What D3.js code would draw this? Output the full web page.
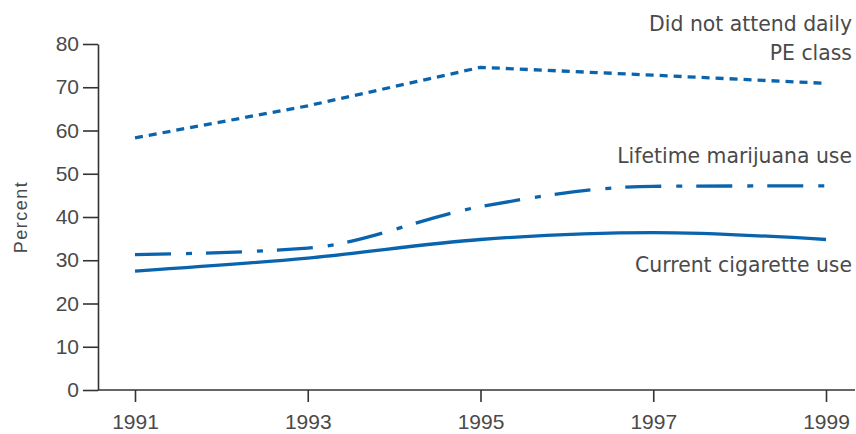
<!DOCTYPE html>
<html>
<head>
<meta charset="utf-8">
<script src="https://cdn.jsdelivr.net/npm/d3@7"></script>
<style>
  body { margin: 0; background: #fff; }
  svg { display: block; }
</style>
</head>
<body>
<svg width="856" height="434"></svg>
<script>
// survey years and percentages
const years = [1991, 1993, 1995, 1997, 1999]
const noDailyPE = [58.3, 65.7, 74.6, 72.8, 70.9]
const marijuana = [31.3, 32.8, 42.4, 47.1, 47.2]
const cigarettes = [27.5, 30.5, 34.8, 36.4, 34.8]
const yTicks = [0, 10, 20, 30, 40, 50, 60, 70, 80]

const svg = d3.select('svg')
const blue = '#0a64ad'
const textGrey = '#4a4a4a'
const axisColor = '#333'

const axisX0 = 98        // where y axis sits
const axisRight = 855

const xScale = d3.scaleLinear()
  .domain([1991, 1999])
  .range([135, 826])

const yScale = d3.scaleLinear()
  .domain([0, 80])
  .range([390, 44])

// y axis
const yAxis = d3.axisLeft(yScale)
  .tickValues(yTicks)
  .tickSize(15)
  .tickSizeOuter(0)
  .tickPadding(4)

const yAxisG = svg.append('g')
  .attr('transform', `translate(${axisX0},0)`)
  .call(yAxis)
yAxisG.selectAll('line, path').attr('stroke', axisColor).attr('stroke-width', 1.6)
yAxisG.selectAll('text')
  .attr('fill', textGrey)
  .style('font-family', '"Liberation Sans", Arial, sans-serif')
  .style('font-size', '21px')

// x axis
const xAxis = d3.axisBottom(xScale)
  .tickValues(years)
  .tickFormat(d3.format('d'))
  .tickSize(12)
  .tickSizeOuter(0)
  .tickPadding(12)

const xAxisG = svg.append('g')
  .attr('transform', `translate(0,${yScale(0)})`)
  .call(xAxis)
xAxisG.select('.domain').remove()
xAxisG.append('line')
  .attr('x1', axisX0).attr('x2', axisRight)
  .attr('stroke', axisColor).attr('stroke-width', 1.6)
xAxisG.selectAll('.tick line').attr('stroke', axisColor).attr('stroke-width', 1.6)
xAxisG.selectAll('text')
  .attr('fill', textGrey)
  .style('font-family', '"Liberation Sans", Arial, sans-serif')
  .style('font-size', '21px')

svg.append('text')
  .attr('transform', `translate(27,${yScale(40)}) rotate(-90)`)
  .attr('text-anchor', 'middle')
  .attr('fill', textGrey)
  .style('font-family', '"Liberation Sans", Arial, sans-serif')
  .style('font-size', '18px')
  .style('letter-spacing', '1.5px')
  .text('Percent')

// lines
const makeLine = curve => d3.line()
  .x((d, i) => xScale(years[i]))
  .y(d => yScale(d))
  .curve(curve)

const series = [
  { values: noDailyPE, dash: '8,6', curve: d3.curveLinear },
  { values: marijuana, dash: '36,15,6,14', curve: d3.curveMonotoneX },
  { values: cigarettes, dash: null, curve: d3.curveMonotoneX }
]

svg.selectAll('path.series').data(series)
  .enter().append('path')
  .attr('class', 'series')
  .attr('d', d => makeLine(d.curve)(d.values))
  .attr('fill', 'none')
  .attr('stroke', blue)
  .attr('stroke-width', 3.3)
  .attr('stroke-dasharray', d => d.dash)

// labels
const labelFont = '"DejaVu Sans", Verdana, sans-serif'
const label = (lines, y) => {
  const t = svg.append('text')
    .attr('text-anchor', 'end')
    .attr('fill', textGrey)
    .style('font-family', labelFont)
    .style('font-size', '20.4px')
  lines.forEach((s, i) => {
    t.append('tspan').attr('x', 852).attr('y', y + i * 29).text(s)
  })
}
label(['Did not attend daily', 'PE class'], 31)
label(['Lifetime marijuana use'], 163)
label(['Current cigarette use'], 272)
</script>
</body>
</html>
